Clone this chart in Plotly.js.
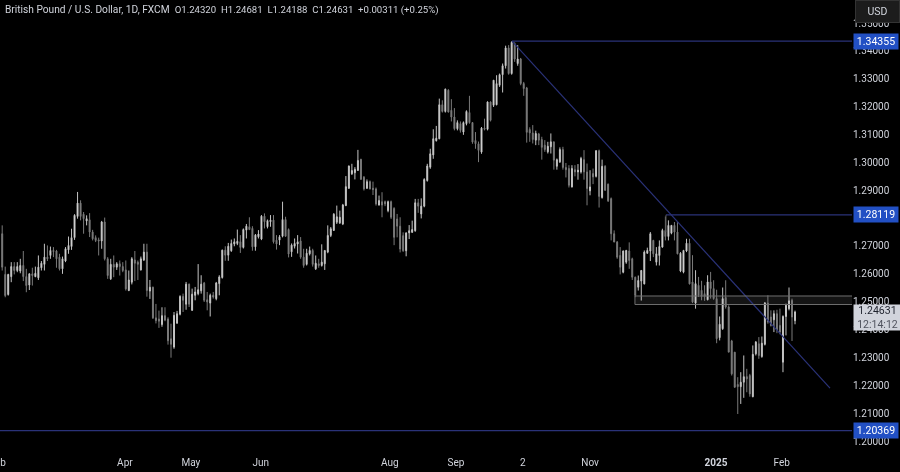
<!DOCTYPE html>
<html>
<head>
<meta charset="utf-8">
<script src="https://cdn.plot.ly/plotly-3.0.1.min.js"></script>
<style>html,body{margin:0;padding:0;background:#000;overflow:hidden}#chart{width:900px;height:472px;filter:blur(0.35px)}</style>
</head>
<body>
<div id="chart"></div>
<script>
const opens = [
1.2744,1.2598,1.2526,1.2590,1.2626,1.2612,1.2610,1.2630,1.2590,1.2560,1.2600,1.2590,1.2586,1.2622,1.2634,1.2660,1.2666,1.2684,1.2682,1.2660,1.2618,1.2646,1.2686,1.2698,1.2730,1.2806,1.2854,1.2814,1.2790,1.2794,1.2750,1.2730,1.2722,1.2718,1.2786,1.2654,1.2582,1.2634,1.2624,1.2636,1.2626,1.2614,1.2540,1.2570,1.2650,1.2642,1.2614,1.2650,1.2678,1.2538,1.2552,1.2442,1.2438,1.2418,1.2450,1.2438,
1.2367,1.2337,1.2423,1.2455,1.2519,1.2491,1.2563,1.2469,1.2523,1.2529,1.2539,1.2567,1.2507,1.2495,1.2523,1.2511,1.2565,1.2587,1.2685,1.2667,1.2683,1.2707,1.2709,1.2715,1.2695,1.2757,1.2769,1.2763,1.2697,1.2733,1.2725,1.2807,1.2769,1.2787,1.2793,1.2721,1.2721,1.2735,1.2795,1.2759,1.2679,1.2699,1.2707,
1.2718,1.2660,1.2634,1.2672,1.2684,1.2618,1.2636,1.2630,1.2636,1.2678,1.2738,1.2756,
1.2785,1.2783,1.2779,1.2845,1.2907,1.2959,1.2963,1.2971,1.3011,1.2947,1.2907,1.2931,1.2907,1.2905,1.2847,1.2859,1.2859,1.2827,1.2859,1.2835,1.2797,1.2771,1.2737,1.2683,1.2747,1.2749,1.2755,1.2855,1.2815,1.2843,1.2935,1.2983,1.3027,1.3078,1.3085,1.3207,1.3183,1.3259,1.3187,1.3163,1.3121,1.3139,1.3109,1.3139,1.3179,1.3143,1.3079,1.3067,1.3037,1.3123,1.3119,1.3217,1.3205,1.3207,1.3277,1.3315,1.3347,1.3411,1.3319,1.3427,1.3355,1.3371,1.3283,1.3267,
1.3118,1.3106,1.3080,1.3102,1.3082,1.3062,1.3038,1.3056,1.3074,1.2986,1.3002,1.3046,1.2982,1.2978,1.2912,1.2974,1.2966,1.2966,1.3010,1.2966,1.2898,1.2960,1.2950,1.3042,1.2874,1.2986,1.2922,1.2870,1.2744,1.2714,1.2666,1.2606,1.2642,1.2682,1.2654,1.2588,1.2552,1.2574,1.2564,1.2674,1.2682,1.2720,1.2642,1.2666,1.2696,1.2756,1.2734,1.2746,1.2774,1.2750,1.2610,1.2606,1.2682,1.2710,
1.2571,1.2495,1.2559,1.2541,1.2529,1.2507,1.2571,1.2547,1.2511,1.2371,1.2403,1.2515,1.2481,1.2359,1.2319,1.2203,1.2195,1.2211,1.2231,1.2235,1.2159,1.2313,1.2349,1.2303,1.2347,1.2495,1.2445,1.2435,1.2457,1.2415,1.2283,1.2447,1.2475,1.2505,1.2432
];
const highs = [
1.2774,1.2626,1.2600,1.2642,1.2642,1.2642,1.2654,1.2682,1.2618,1.2602,1.2622,1.2626,1.2666,1.2646,1.2708,1.2702,1.2698,1.2696,1.2686,1.2672,1.2662,1.2696,1.2734,1.2762,1.2814,1.2894,1.2864,1.2822,1.2810,1.2818,1.2758,1.2738,1.2730,1.2790,1.2802,1.2660,1.2654,1.2666,1.2642,1.2648,1.2642,1.2648,1.2612,1.2660,1.2682,1.2648,1.2662,1.2708,1.2708,1.2578,1.2554,1.2492,1.2468,1.2480,1.2480,1.2444,
1.2421,1.2463,1.2467,1.2523,1.2529,1.2571,1.2565,1.2547,1.2553,1.2635,1.2595,1.2571,1.2535,1.2529,1.2535,1.2571,1.2595,1.2687,1.2699,1.2711,1.2723,1.2727,1.2759,1.2739,1.2763,1.2779,1.2803,1.2771,1.2743,1.2757,1.2811,1.2817,1.2795,1.2811,1.2811,1.2739,1.2739,1.2859,1.2805,1.2763,1.2709,1.2727,1.2739,
1.2732,1.2690,1.2690,1.2698,1.2690,1.2666,1.2654,1.2706,1.2684,1.2774,1.2768,1.2818,
1.2845,1.2827,1.2851,1.2951,1.2989,1.2995,1.2983,1.3045,1.3013,1.2951,1.2939,1.2935,1.2931,1.2910,1.2881,1.2893,1.2863,1.2863,1.2863,1.2839,1.2815,1.2803,1.2749,1.2749,1.2775,1.2791,1.2869,1.2869,1.2871,1.2943,1.2995,1.3049,1.3119,1.3131,1.3229,1.3223,1.3265,1.3263,1.3227,1.3195,1.3151,1.3147,1.3147,1.3187,1.3239,1.3145,1.3109,1.3075,1.3127,1.3157,1.3219,1.3219,1.3295,1.3313,1.3319,1.3355,1.3419,1.3421,1.3435,1.3431,1.3421,1.3375,1.3289,1.3271,
1.3126,1.3134,1.3114,1.3106,1.3092,1.3080,1.3074,1.3104,1.3074,1.3014,1.3054,1.3056,1.2998,1.2990,1.2990,1.2990,1.2994,1.3020,1.3044,1.2996,1.2972,1.2978,1.3044,1.3046,1.3010,1.2990,1.2924,1.2874,1.2756,1.2718,1.2696,1.2684,1.2686,1.2713,1.2658,1.2590,1.2594,1.2614,1.2684,1.2694,1.2750,1.2722,1.2696,1.2720,1.2762,1.2806,1.2792,1.2774,1.2786,1.2786,1.2678,1.2686,1.2726,1.2726,
1.2667,1.2613,1.2589,1.2575,1.2559,1.2595,1.2607,1.2577,1.2543,1.2447,1.2551,1.2577,1.2487,1.2363,1.2319,1.2229,1.2247,1.2307,1.2259,1.2241,1.2343,1.2359,1.2373,1.2375,1.2499,1.2523,1.2469,1.2469,1.2471,1.2475,1.2451,1.2493,1.2551,1.2511,1.2468
];
const lows = [
1.2612,1.2516,1.2522,1.2570,1.2598,1.2606,1.2602,1.2574,1.2534,1.2542,1.2558,1.2588,1.2578,1.2612,1.2612,1.2646,1.2654,1.2660,1.2622,1.2612,1.2600,1.2642,1.2672,1.2686,1.2722,1.2798,1.2792,1.2744,1.2774,1.2732,1.2720,1.2714,1.2666,1.2690,1.2648,1.2582,1.2578,1.2588,1.2614,1.2594,1.2606,1.2540,1.2538,1.2562,1.2574,1.2578,1.2612,1.2646,1.2518,1.2510,1.2438,1.2422,1.2406,1.2410,1.2430,1.2346,
1.2299,1.2331,1.2421,1.2451,1.2463,1.2471,1.2481,1.2467,1.2505,1.2523,1.2529,1.2499,1.2469,1.2447,1.2511,1.2505,1.2523,1.2583,1.2647,1.2647,1.2679,1.2699,1.2703,1.2675,1.2691,1.2727,1.2757,1.2683,1.2683,1.2727,1.2721,1.2763,1.2763,1.2769,1.2709,1.2687,1.2703,1.2731,1.2733,1.2659,1.2661,1.2691,1.2673,
1.2654,1.2622,1.2630,1.2666,1.2626,1.2614,1.2622,1.2626,1.2614,1.2674,1.2732,1.2754,
1.2779,1.2779,1.2775,1.2843,1.2905,1.2955,1.2939,1.2971,1.2939,1.2899,1.2905,1.2903,1.2883,1.2845,1.2845,1.2803,1.2843,1.2821,1.2797,1.2703,1.2731,1.2677,1.2679,1.2663,1.2725,1.2747,1.2751,1.2819,1.2799,1.2839,1.2931,1.2977,1.3013,1.3075,1.3083,1.3179,1.3179,1.3179,1.3147,1.3115,1.3115,1.3107,1.3099,1.3133,1.3139,1.3067,1.3049,1.3001,1.3031,1.3115,1.3115,1.3147,1.3199,1.3205,1.3271,1.3251,1.3337,1.3315,1.3315,1.3361,1.3347,1.3277,1.3239,1.3071,
1.3074,1.3068,1.3062,1.3062,1.3010,1.3038,1.3032,1.3032,1.2974,1.2974,1.2998,1.2974,1.2946,1.2910,1.2910,1.2950,1.2938,1.2960,1.2938,1.2846,1.2882,1.2922,1.2946,1.2838,1.2870,1.2898,1.2858,1.2720,1.2714,1.2654,1.2598,1.2602,1.2636,1.2618,1.2578,1.2516,1.2540,1.2504,1.2562,1.2672,1.2646,1.2660,1.2630,1.2630,1.2694,1.2720,1.2720,1.2742,1.2720,1.2670,1.2606,1.2602,1.2678,1.2562,
1.2495,1.2475,1.2517,1.2505,1.2503,1.2505,1.2511,1.2507,1.2351,1.2361,1.2399,1.2475,1.2319,1.2235,1.2191,1.2097,1.2133,1.2155,1.2175,1.2159,1.2157,1.2307,1.2295,1.2299,1.2343,1.2421,1.2411,1.2391,1.2387,1.2383,1.2247,1.2379,1.2469,1.2359,1.2419
];
const closes = [
1.2624,1.2522,1.2598,1.2626,1.2612,1.2626,1.2630,1.2590,1.2558,1.2600,1.2594,1.2602,1.2624,1.2638,1.2660,1.2654,1.2684,1.2680,1.2654,1.2618,1.2654,1.2690,1.2702,1.2730,1.2810,1.2854,1.2806,1.2798,1.2798,1.2750,1.2726,1.2720,1.2718,1.2786,1.2654,1.2594,1.2634,1.2624,1.2636,1.2626,1.2612,1.2546,1.2578,1.2654,1.2638,1.2634,1.2654,1.2678,1.2540,1.2552,1.2442,1.2432,1.2430,1.2450,1.2434,1.2360,
1.2347,1.2451,1.2457,1.2519,1.2505,1.2563,1.2491,1.2527,1.2535,1.2543,1.2563,1.2505,1.2499,1.2523,1.2517,1.2567,1.2589,1.2685,1.2667,1.2699,1.2709,1.2715,1.2717,1.2695,1.2759,1.2771,1.2759,1.2697,1.2739,1.2743,1.2807,1.2787,1.2791,1.2793,1.2715,1.2707,1.2733,1.2795,1.2735,1.2671,1.2703,1.2709,1.2715,
1.2660,1.2630,1.2674,1.2684,1.2634,1.2638,1.2630,1.2642,1.2684,1.2738,1.2762,1.2814,
1.2805,1.2803,1.2847,1.2913,1.2987,1.2971,1.2975,1.3007,1.2939,1.2905,1.2931,1.2905,1.2903,1.2851,1.2863,1.2847,1.2851,1.2859,1.2803,1.2731,1.2771,1.2689,1.2683,1.2747,1.2755,1.2759,1.2855,1.2843,1.2843,1.2939,1.2987,1.3031,1.3085,1.3087,1.3207,1.3183,1.3263,1.3181,1.3163,1.3121,1.3143,1.3115,1.3143,1.3183,1.3143,1.3073,1.3067,1.3043,1.3123,1.3119,1.3217,1.3151,1.3295,1.3283,1.3315,1.3347,1.3411,1.3319,1.3431,1.3371,1.3371,1.3283,1.3265,1.3108,
1.3106,1.3082,1.3104,1.3080,1.3054,1.3046,1.3058,1.3074,1.3008,1.3010,1.3046,1.2982,1.2974,1.2918,1.2978,1.2966,1.2972,1.3014,1.2966,1.2906,1.2912,1.2948,1.3042,1.2878,1.2986,1.2900,1.2862,1.2744,1.2714,1.2660,1.2624,1.2682,1.2684,1.2648,1.2588,1.2522,1.2576,1.2612,1.2678,1.2684,1.2744,1.2672,1.2672,1.2698,1.2756,1.2734,1.2774,1.2774,1.2750,1.2672,1.2674,1.2684,1.2710,1.2564,
1.2499,1.2565,1.2523,1.2519,1.2519,1.2571,1.2547,1.2511,1.2367,1.2419,1.2511,1.2481,1.2319,1.2241,1.2193,1.2195,1.2211,1.2231,1.2223,1.2169,1.2311,1.2355,1.2307,1.2351,1.2495,1.2427,1.2415,1.2457,1.2399,1.2391,1.2447,1.2487,1.2503,1.2445,1.2463
];

const monthTickIndex = [0.3, 40.7, 62.6, 85.8, 128.6, 150.5, 172.7, 195, 236.8, 258.6];
const monthTickLabels = ['b', 'Apr', 'May', 'Jun', 'Aug', 'Sep', '2', 'Nov', '<b>2025</b>', 'Feb'];
const priceTicks = [1.20, 1.21, 1.22, 1.23, 1.24, 1.25, 1.26, 1.27, 1.29, 1.30, 1.31, 1.32, 1.33, 1.34, 1.35];

const highLevel = 1.34355;
const midLevel = 1.28119;
const lowLevel = 1.20369;
const lastPrice = 1.24631;
const countdown = '12:14:12';
const zoneTop = 1.25205;
const zoneBottom = 1.24900;
const trendX = [169.1, 274.6];
const trendY = [1.34355, 1.2190];

const days = opens.map((_, i) => i);
const NAVY = '#2a3278';
const BLUE = '#2250c4';

function levelLine(x0, x1, y, color) {
  return {type: 'scatter', mode: 'lines', x: [x0, x1], y: [y, y], hoverinfo: 'skip', showlegend: false,
          line: {color: color, width: 1.2}, cliponaxis: true};
}
function priceTag(y, text) {
  return {xref: 'paper', yref: 'y', x: 1.0015, y: y, xanchor: 'left', yanchor: 'middle', text: text,
          showarrow: false, bgcolor: BLUE, width: 44, height: 15, borderpad: 0, align: 'center',
          font: {family: 'Roboto, sans-serif', size: 10.5, color: '#ffffff'}};
}

const traces = [
  {type: 'candlestick', x: days, open: opens, high: highs, low: lows, close: closes,
   whiskerwidth: 0, hoverinfo: 'skip', showlegend: false,
   increasing: {line: {color: '#c4c4c4', width: 1}, fillcolor: '#ffffff'},
   decreasing: {line: {color: '#7a7a7a', width: 1}, fillcolor: '#8a8a8a'}},
  levelLine(169.1, 282, highLevel, NAVY),
  levelLine(220.2, 282, midLevel, NAVY),
  levelLine(-1, 282, lowLevel, NAVY),
  {type: 'scatter', mode: 'lines', x: trendX, y: trendY, hoverinfo: 'skip', showlegend: false,
   line: {color: NAVY, width: 1.2}}
];

const gap = '&nbsp;&nbsp;';
const layout = {
  width: 900, height: 472,
  paper_bgcolor: '#000000', plot_bgcolor: '#000000',
  margin: {l: 0, r: 48, t: 0, b: 20, pad: 0},
  showlegend: false,
  boxgap: 0.55,
  title: {
    text: 'British Pound / U.S. Dollar, 1D, FXCM' + gap +
      '<span style="font-size:9.6px">O1.24320' + gap + 'H1.24681' + gap + 'L1.24188' + gap + 'C1.24631' + gap + '+0.00311 (+0.25%)</span>',
    x: 0.0055, xref: 'container', xanchor: 'left', y: 0.981, yref: 'container', yanchor: 'middle',
    font: {family: 'Roboto, sans-serif', size: 10.2, color: '#d1d4dc'}
  },
  xaxis: {
    type: 'linear', range: [-0.73, 281.9], rangeslider: {visible: false},
    showgrid: false, zeroline: false, showline: false, ticks: '',
    tickmode: 'array', tickvals: monthTickIndex, ticktext: monthTickLabels, ticklabelstandoff: 3,
    tickfont: {family: 'Roboto, sans-serif', size: 10, color: '#d1d4dc'}
  },
  yaxis: {
    side: 'right', type: 'linear', range: [1.19605, 1.3583],
    showgrid: false, zeroline: false, showline: false, ticks: '',
    tickmode: 'array', tickvals: priceTicks, tickformat: '.5f',
    tickfont: {family: 'Roboto, sans-serif', size: 10, color: '#d1d4dc'}
  },
  shapes: [
    {type: 'rect', xref: 'x', yref: 'y', x0: 209.9, x1: 282, y0: zoneBottom, y1: zoneTop, layer: 'below',
     fillcolor: '#141414', line: {width: 0}},
    {type: 'line', xref: 'x', yref: 'y', x0: 209.9, x1: 281.9, y0: zoneTop, y1: zoneTop, line: {color: '#6f6f6f', width: 1}},
    {type: 'line', xref: 'x', yref: 'y', x0: 209.9, x1: 281.9, y0: zoneBottom, y1: zoneBottom, line: {color: '#6f6f6f', width: 1}},
    {type: 'line', xref: 'x', yref: 'y', x0: 209.9, x1: 209.9, y0: zoneBottom, y1: zoneTop, line: {color: '#6f6f6f', width: 1}},
    {type: 'line', xref: 'x', yref: 'y', x0: 220.2, x1: 220.2, y0: midLevel, y1: 1.2751, line: {color: '#555555', width: 1}}
  ],
  annotations: [
    priceTag(highLevel, highLevel.toFixed(5)),
    priceTag(midLevel, midLevel.toFixed(5)),
    priceTag(lowLevel, lowLevel.toFixed(5)),
    {xref: 'paper', yref: 'y', x: 1.0015, y: 1.24433, xanchor: 'left', yanchor: 'middle',
     text: '<span style="color:#1e222d">' + lastPrice.toFixed(5) + '</span><br><span style="color:#50535e">' + countdown + '</span>',
     showarrow: false, bgcolor: '#d1d4dc', width: 47, height: 25, borderpad: 0, align: 'center',
     font: {family: 'Roboto, sans-serif', size: 10.5, color: '#1e222d'}},
    {xref: 'paper', yref: 'paper', x: 1.0035, y: 1, xanchor: 'left', yanchor: 'top',
     text: 'USD', showarrow: false, bgcolor: '#1c1c1c', bordercolor: '#333333', borderwidth: 1,
     width: 41, height: 19, align: 'center',
     font: {family: 'Roboto, sans-serif', size: 10.5, color: '#d1d4dc'}}
  ]
};

Plotly.newPlot('chart', traces, layout, {displayModeBar: false, staticPlot: true});
</script>
</body>
</html>
